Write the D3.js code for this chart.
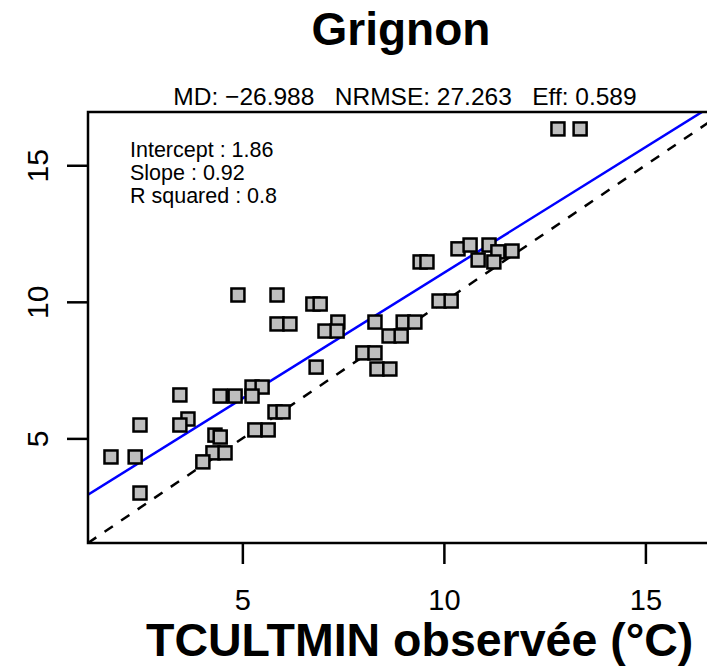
<!DOCTYPE html>
<html>
<head>
<meta charset="utf-8">
<script src="https://cdn.jsdelivr.net/npm/d3@7"></script>
<style>
  html, body { margin: 0; padding: 0; background: #fff; }
  svg { display: block; font-family: "Liberation Sans", Arial, Helvetica, sans-serif; }
</style>
</head>
<body>
<svg id="chart" width="707" height="670"></svg>
<script>
// ---- data ----
const title = "Grignon";
const subtitle = "MD: \u221226.988   NRMSE: 27.263   Eff: 0.589";
const xLabel = "TCULTMIN observée (°C)";
const statsLines = ["Intercept : 1.86", "Slope : 0.92", "R squared : 0.8"];
const intercept = 1.86;
const slope = 0.92;
const xTicks = [5, 10, 15];
const yTicks = [5, 10, 15];
const observed = [12.83, 13.38, 10.35, 10.65, 11.12, 10.85, 11.34, 11.69, 11.24, 9.41, 9.58,
  9.88, 10.18, 4.89, 5.86, 6.75, 6.93, 5.86, 6.18, 7.05, 7.37, 7.35, 8.29, 8.99, 9.28,
  8.64, 8.94, 7.99, 8.29, 8.34, 8.66, 6.83, 5.24, 5.49, 5.24, 4.45, 4.82, 3.45, 3.65,
  3.45, 2.46, 5.81, 6.01, 5.31, 5.64, 4.32, 4.45, 4.27, 4.57, 4.02, 1.74, 2.34, 2.46];
const simulated = [16.33, 16.33, 11.94, 12.08, 12.08, 11.53, 11.83, 11.86, 11.46, 11.46, 11.46,
  10.03, 10.03, 10.25, 10.25, 9.92, 9.92, 9.19, 9.19, 8.93, 9.26, 8.93, 9.26, 9.26, 9.26,
  8.75, 8.75, 8.13, 8.13, 7.54, 7.54, 7.61, 6.88, 6.88, 6.55, 6.55, 6.55, 6.59, 5.71,
  5.49, 5.49, 5.97, 5.97, 5.31, 5.31, 5.12, 5.05, 4.47, 4.47, 4.14, 4.32, 4.32, 3.00];
const domain = [1.17, 16.95];

// ---- layout ----
const svg = d3.select("#chart");
const L = 88, R = 724, T = 112, B = 543;
const x = d3.scaleLinear().domain(domain).range([L, R]);
const y = d3.scaleLinear().domain(domain).range([B, T]);

svg.append("defs").append("clipPath").attr("id", "plotclip")
  .append("rect").attr("x", L).attr("y", T).attr("width", R - L).attr("height", B - T);

// title
svg.append("text").attr("x", 401).attr("y", 45).attr("text-anchor", "middle")
  .attr("font-size", 46).attr("font-weight", "bold").text(title);
svg.append("text").attr("x", 405).attr("y", 105).attr("text-anchor", "middle")
  .attr("font-size", 24.5).style("white-space", "pre").attr("xml:space", "preserve").text(subtitle);

// lines
const g = svg.append("g").attr("clip-path", "url(#plotclip)");
g.append("line")
  .attr("x1", x(domain[0])).attr("y1", y(domain[0]))
  .attr("x2", x(domain[1])).attr("y2", y(domain[1]))
  .attr("stroke", "#000").attr("stroke-width", 2.5).attr("stroke-dasharray", "10,10");
g.append("line")
  .attr("x1", x(domain[0])).attr("y1", y(intercept + slope * domain[0]))
  .attr("x2", x(domain[1])).attr("y2", y(intercept + slope * domain[1]))
  .attr("stroke", "#0000ff").attr("stroke-width", 2.5);

// points
const pts = observed.map((o, i) => ({ o, s: simulated[i] }));
const side = 13;
g.selectAll("rect.pt").data(pts).enter().append("rect").attr("class", "pt")
  .attr("x", d => x(d.o) - side / 2).attr("y", d => y(d.s) - side / 2)
  .attr("width", side).attr("height", side)
  .attr("fill", "#bebebe").attr("stroke", "#000").attr("stroke-width", 2.5);

// stats
svg.selectAll("text.stat").data(statsLines).enter().append("text").attr("class", "stat")
  .attr("x", 130).attr("y", (d, i) => 157 + i * 23).attr("font-size", 21.5).text(d => d);

// box
svg.append("rect").attr("x", L).attr("y", T).attr("width", R - L).attr("height", B - T)
  .attr("fill", "none").attr("stroke", "#000").attr("stroke-width", 2.5);

// axes
const xAxis = d3.axisBottom(x).tickValues(xTicks).tickSize(21).tickPadding(25).tickFormat(d3.format("d"));
const xg = svg.append("g").attr("transform", `translate(0,${B})`).call(xAxis);
xg.select(".domain").remove();
xg.selectAll(".tick line").attr("stroke", "#000").attr("stroke-width", 2.5);
xg.selectAll(".tick text").attr("font-size", 29).attr("font-family", "Liberation Sans, Arial, sans-serif").attr("fill", "#000");

const yAxis = d3.axisLeft(y).tickValues(yTicks).tickSize(21).tickFormat(d3.format("d"));
const yg = svg.append("g").attr("transform", `translate(${L},0)`).call(yAxis);
yg.select(".domain").remove();
yg.selectAll(".tick line").attr("stroke", "#000").attr("stroke-width", 2.5);
yg.selectAll(".tick text")
  .attr("x", 0).attr("dy", 0)
  .attr("transform", "translate(-40,0) rotate(-90)")
  .attr("text-anchor", "middle")
  .attr("font-size", 30).attr("font-family", "Liberation Sans, Arial, sans-serif").attr("fill", "#000");

// x label
svg.append("text").attr("x", 146).attr("y", 656).attr("text-anchor", "start")
  .attr("font-size", 46.5).attr("font-weight", "bold").text(xLabel);
</script>
</body>
</html>
